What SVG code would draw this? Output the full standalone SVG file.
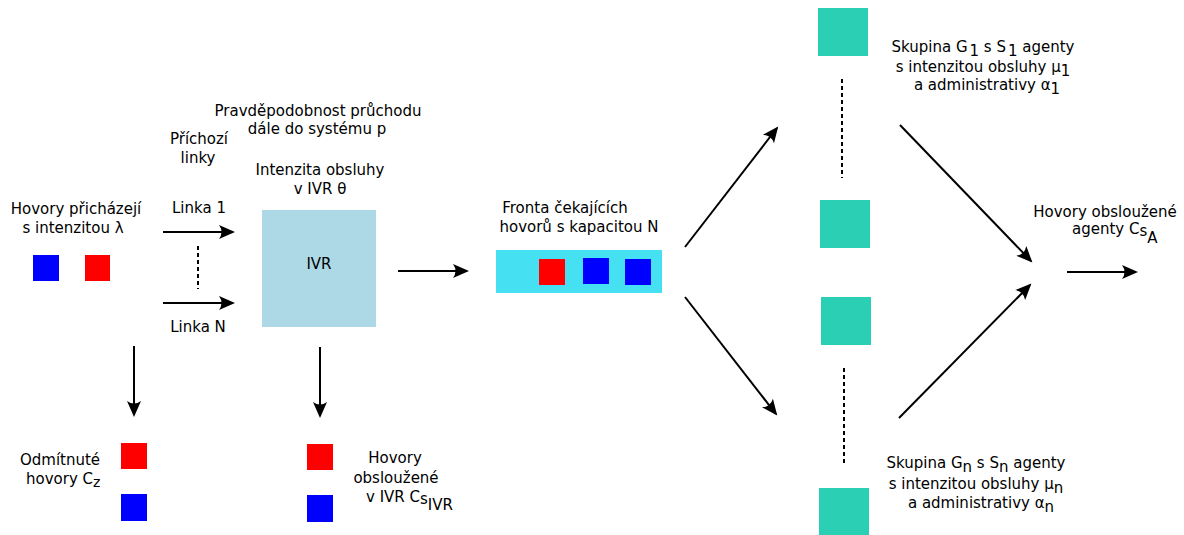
<svg xmlns="http://www.w3.org/2000/svg" width="1184" height="535" viewBox="0 0 1184 535">
  <style>
    text { font-family: "DejaVu Sans", "Liberation Sans", sans-serif; font-size: 15px; fill: #000; }
    .mid { text-anchor: middle; }
    .conn { stroke: #000; stroke-width: 2; fill: none; marker-end: url(#head); }
    .dots { stroke: #000; stroke-width: 2; fill: none; stroke-dasharray: 4 3; }
    .red { fill: #ff0000; }
    .blue { fill: #0000ff; }
    .teal { fill: #2acfb4; }
  </style>
  <defs>
    <marker id="head" markerUnits="userSpaceOnUse" markerWidth="22" markerHeight="18" viewBox="-16 -9 22 18" refX="0" refY="0" orient="auto">
      <path d="M2,0 L-14,-7 Q-9,0 -14,7 Z" fill="#000"/>
    </marker>
  </defs>

  <rect width="1184" height="535" fill="#fff"/>

  <!-- incoming calls -->
  <g id="incoming">
    <rect class="blue" x="33" y="255" width="26" height="26"/>
    <rect class="red" x="85" y="255" width="25" height="26"/>
    <text class="mid" x="76" y="214">Hovory přicházejí</text>
    <text class="mid" x="73" y="233">s intenzitou λ</text>
  </g>

  <!-- incoming lines -->
  <g id="lines">
    <text class="mid" x="199" y="144">Příchozí</text>
    <text class="mid" x="198" y="163">linky</text>
    <text class="mid" x="199" y="213">Linka 1</text>
    <text class="mid" x="198" y="332">Linka N</text>
    <line class="dots" x1="198" y1="246" x2="198" y2="289"/>
  </g>

  <!-- IVR -->
  <g id="ivr">
    <text class="mid" x="318" y="116">Pravděpodobnost průchodu</text>
    <text class="mid" x="317" y="134">dále do systému p</text>
    <text class="mid" x="320" y="175">Intenzita obsluhy</text>
    <text class="mid" x="320" y="194">v IVR θ</text>
    <rect x="262" y="210" width="114" height="117" fill="#add8e6"/>
    <text class="mid" x="319" y="269">IVR</text>
  </g>

  <!-- rejected calls -->
  <g id="rejected">
    <rect class="red" x="121" y="443" width="26" height="26"/>
    <rect class="blue" x="121" y="494" width="26" height="27"/>
    <text class="mid" x="60" y="465">Odmítnuté</text>
    <text x="26" y="484">hovory C<tspan dy="3" font-size="14">z</tspan></text>
  </g>

  <!-- calls served in IVR -->
  <g id="served-ivr">
    <rect class="red" x="307" y="444" width="26" height="26"/>
    <rect class="blue" x="307" y="495" width="26" height="27"/>
    <text class="mid" x="395" y="463">Hovory</text>
    <text class="mid" x="396" y="483">obsloužené</text>
    <text x="366" y="502">v IVR C<tspan dy="2">s</tspan><tspan dy="6">IVR</tspan></text>
  </g>

  <!-- waiting queue -->
  <g id="queue">
    <text class="mid" x="565" y="213">Fronta čekajících</text>
    <text class="mid" x="579" y="232">hovorů s kapacitou N</text>
    <rect x="496" y="250" width="166" height="43" fill="#45e0f2"/>
    <rect class="red" x="539" y="259" width="26" height="26"/>
    <rect class="blue" x="583" y="258" width="26" height="26"/>
    <rect class="blue" x="625" y="259" width="26" height="26"/>
  </g>

  <!-- agent groups -->
  <g id="group-1">
    <rect class="teal" x="818" y="8" width="50" height="48"/>
    <rect class="teal" x="820" y="200" width="50" height="48"/>
    <line class="dots" x1="842" y1="79" x2="842" y2="178"/>
    <text class="mid" x="983" y="52">Skupina G<tspan dx="2" dy="4">1</tspan><tspan dy="-4"> s S</tspan><tspan dx="2" dy="4">1</tspan><tspan dy="-4"> agenty</tspan></text>
    <text class="mid" x="983" y="72">s intenzitou obsluhy μ<tspan dy="4">1</tspan></text>
    <text class="mid" x="987" y="90">a administrativy α<tspan dy="4">1</tspan></text>
  </g>

  <g id="group-n">
    <rect class="teal" x="821" y="297" width="50" height="48"/>
    <rect class="teal" x="819" y="488" width="50" height="48"/>
    <line class="dots" x1="844" y1="368" x2="844" y2="466"/>
    <text class="mid" x="976" y="468">Skupina G<tspan dy="4">n</tspan><tspan dy="-4"> s S</tspan><tspan dy="4">n</tspan><tspan dy="-4"> agenty</tspan></text>
    <text class="mid" x="976" y="489">s intenzitou obsluhy μ<tspan dy="4">n</tspan></text>
    <text class="mid" x="981" y="508">a administrativy α<tspan dy="4">n</tspan></text>
  </g>

  <!-- calls served by agents -->
  <g id="served-agents">
    <text class="mid" x="1105" y="217">Hovory obsloužené</text>
    <text x="1072" y="234">agenty C<tspan dy="2">s</tspan><tspan dy="7">A</tspan></text>
  </g>

  <!-- connectors -->
  <g id="connectors">
    <line class="conn" x1="163" y1="232" x2="233" y2="232"/>
    <line class="conn" x1="163" y1="303" x2="233" y2="303"/>
    <line class="conn" x1="398" y1="271" x2="467" y2="271"/>
    <line class="conn" x1="134" y1="346" x2="134" y2="415"/>
    <line class="conn" x1="320" y1="347" x2="320" y2="416"/>
    <line class="conn" x1="685" y1="247" x2="777" y2="128"/>
    <line class="conn" x1="685" y1="297" x2="776" y2="414"/>
    <line class="conn" x1="900" y1="125" x2="1031" y2="261"/>
    <line class="conn" x1="899" y1="418" x2="1030" y2="285"/>
    <line class="conn" x1="1067" y1="272" x2="1136" y2="272"/>
  </g>
</svg>
